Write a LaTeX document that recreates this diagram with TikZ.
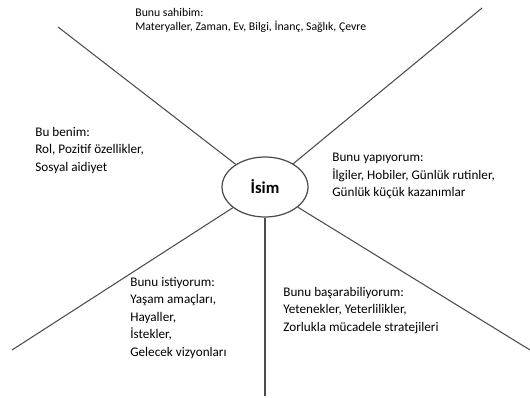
\documentclass[tikz,border=0pt]{standalone}
\usepackage{fontspec}
\setmainfont{Carlito}
\usetikzlibrary{shapes.geometric}

\begin{document}
\begin{tikzpicture}[x=0.02cm,y=-0.02cm]

      \useasboundingbox (0,0) rectangle (530,398);

      \node[ellipse,draw=black!70,line width=0.7pt,minimum width=1.72cm,minimum height=1.2cm,
            font=\fontsize{9.5}{11}\selectfont\bfseries] (isim) at (265,187) {İsim};

      \coordinate (ustsol)  at (58,27);
      \coordinate (ustsag)  at (482,8);
      \coordinate (altsol)  at (12,350);
      \coordinate (altsag)  at (530,350);
      \coordinate (alt)     at (265,396);

      \begin{scope}[every edge/.style={draw=black!70,line width=0.6pt}]
        \path (ustsol) edge (isim);
        \path (ustsag) edge (isim);
        \path (altsol) edge (isim);
        \path (altsag) edge (isim);
        \path (isim)   edge (alt);
      \end{scope}

      \begin{scope}[every node/.style={align=left,anchor=north west,inner sep=0pt,
                    font=\fontsize{7.5}{9.9}\selectfont}]
        \node[font=\fontsize{6.7}{8}\selectfont] (sahibim) at (135,8)
          {Bunu sahibim:\\Materyaller, Zaman, Ev, Bilgi, İnanç, Sağlık, Çevre};
        \node (benim)     at (35,127)  {Bu benim:\\Rol, Pozitif özellikler,\\Sosyal aidiyet};
        \node (yapiyorum) at (332,153) {Bunu yapıyorum:\\İlgiler, Hobiler, Günlük rutinler,\\Günlük küçük kazanımlar};
        \node (istiyorum) at (130,277) {Bunu istiyorum:\\Yaşam amaçları,\\Hayaller,\\İstekler,\\Gelecek vizyonları};
        \node (basarabiliyorum) at (283,287) {Bunu başarabiliyorum:\\Yetenekler, Yeterlilikler,\\Zorlukla mücadele stratejileri};
      \end{scope}

    \end{tikzpicture}
\end{document}
